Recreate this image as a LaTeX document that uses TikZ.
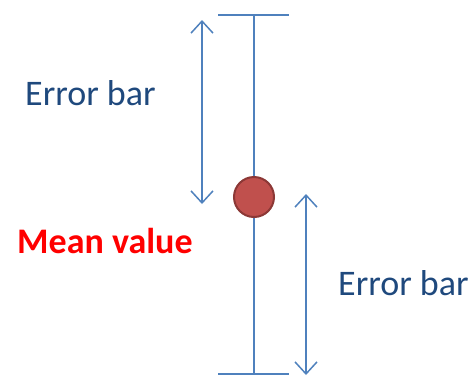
\documentclass[tikz,border=0pt]{standalone}
\usepackage{fontspec}
\setmainfont{Carlito}
\usetikzlibrary{arrows.meta}
\definecolor{barblue}{RGB}{79,129,189}
\definecolor{textblue}{RGB}{31,73,125}
\definecolor{meanfill}{RGB}{192,80,77}
\definecolor{meanedge}{RGB}{140,56,54}
\tikzset{
  bar/.style={draw=barblue, line width=1.5pt},
  span/.style={bar, {Straight Barb[length=12pt,width=22pt]}-{Straight Barb[length=12pt,width=22pt]}},
  label/.style={text=textblue, font=\fontsize{36}{40}\selectfont, inner sep=0pt}
}
\begin{document}
\begin{tikzpicture}[x=1pt,y=-1pt]
  \useasboundingbox (0,0) rectangle (475,376);
  % the bar with its caps
  \coordinate (top) at (254,15);
  \coordinate (bottom) at (254,374);
  \coordinate (topL) at (218,15);
  \coordinate (topR) at (289,15);
  \coordinate (botL) at (218,374);
  \coordinate (botR) at (289,374);
  \draw[bar] (top) -- (bottom);
  \draw[bar] (topL) -- (topR);
  \draw[bar] (botL) -- (botR);
  \node[circle, fill=meanfill, draw=meanedge, line width=2pt, minimum size=40pt, inner sep=0pt] (mean) at (254,197) {};
  % spans of the two errors
  \coordinate (upA) at (202,20);
  \coordinate (upB) at (202,204);
  \coordinate (loA) at (306,194);
  \coordinate (loB) at (306,375);
  \draw[span] (upA) -- (upB);
  \draw[span] (loA) -- (loB);
  \node[label, anchor=base west] (upper) at (25,105) {Error bar};
  \node[label, anchor=base west] (lower) at (338,295) {Error bar};
  \node[text=red, font=\bfseries\fontsize{36}{40}\selectfont, inner sep=0pt, anchor=base west] (meanlab) at (17,253) {Mean value};
\end{tikzpicture}
\end{document}
